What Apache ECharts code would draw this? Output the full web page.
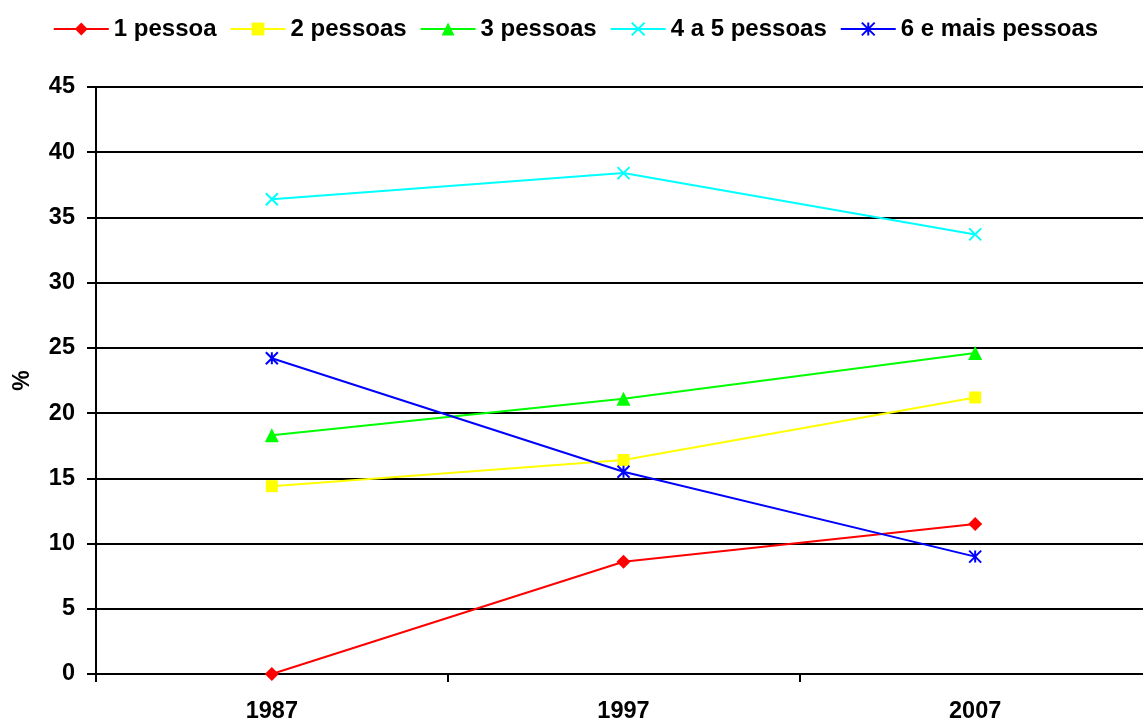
<!DOCTYPE html>
<html lang="pt">
<head>
    <meta charset="UTF-8">
    <title>Agregados por dimensão</title>
    <script src="https://cdn.jsdelivr.net/npm/echarts@6/dist/echarts.min.js"></script>
    <style>
        body { margin: 0; background: #fff; overflow: hidden; }
        /* a última faixa do eixo passa um pouco para lá da margem direita */
        #main { width: 1151px; height: 724px; }
    </style>
</head>
<body>
    <div id="main"></div>
    <script>
        // dados
        var anos = ['1987', '1997', '2007'];
        var umaPessoa = [0, 8.6, 11.5];
        var duasPessoas = [14.4, 16.4, 21.2];
        var tresPessoas = [18.3, 21.1, 24.6];
        var quatroCinco = [36.4, 38.4, 33.7];
        var seisMais = [24.2, 15.5, 9.0];
        var yTicks = [0, 5, 10, 15, 20, 25, 30, 35, 40, 45];

        var fonte = 'Liberation Sans, Arial, sans-serif';
        var crossPath = 'path://M0 0L10 10M10 0L0 10';
        var starPath = 'path://M0 0L10 10M10 0L0 10M5 0L5 10';

        function serie(nome, dados, cor, simbolo, tamanho, traco) {
            return {
                name: nome,
                type: 'line',
                data: dados,
                symbol: simbolo,
                symbolSize: tamanho,
                lineStyle: { color: cor, width: 2 },
                itemStyle: traco
                    ? { color: 'transparent', borderColor: cor, borderWidth: 2 }
                    : { color: cor, borderWidth: 0 },
                color: cor,
                animation: false
            };
        }

        var chart = echarts.init(document.getElementById('main'));
        chart.setOption({
            backgroundColor: '#fff',
            legend: {
                top: 12,
                left: 'center',
                itemWidth: 55,
                itemHeight: 16,
                itemGap: 13,
                textStyle: { fontFamily: fonte, fontWeight: 'bold', fontSize: 24, color: '#000' }
            },
            grid: { left: 96, right: 0, top: 87, bottom: 47, containLabel: false },
            xAxis: {
                type: 'category',
                data: anos,
                boundaryGap: true,
                axisLine: { lineStyle: { color: '#000', width: 2 } },
                axisTick: { show: true, length: 8, lineStyle: { color: '#000', width: 2 } },
                axisLabel: { fontFamily: fonte, fontWeight: 'bold', fontSize: 23.5, color: '#000', margin: 26 }
            },
            yAxis: {
                type: 'value',
                min: 0,
                max: 45,
                interval: 5,
                name: '%',
                nameLocation: 'middle',
                nameRotate: 90,
                nameGap: 62,
                nameTextStyle: { fontFamily: fonte, fontWeight: 'bold', fontSize: 23, color: '#000' },
                axisLine: { show: true, lineStyle: { color: '#000', width: 2 } },
                axisTick: { show: true, length: 9, lineStyle: { color: '#000', width: 2 } },
                axisLabel: {
                    fontFamily: fonte, fontWeight: 'bold', fontSize: 23.5, color: '#000', margin: 21,
                    formatter: function (v) { return yTicks.indexOf(v) >= 0 ? String(v) : ''; }
                },
                splitLine: { lineStyle: { color: '#000', width: 2 } }
            },
            series: [
                serie('1 pessoa', umaPessoa, '#ff0000', 'diamond', 14, false),
                serie('2 pessoas', duasPessoas, '#ffff00', 'rect', 12, false),
                serie('3 pessoas', tresPessoas, '#00ff00', 'triangle', 14, false),
                serie('4 a 5 pessoas', quatroCinco, '#00ffff', crossPath, 12, true),
                serie('6 e mais pessoas', seisMais, '#0000ff', starPath, 12, true)
            ]
        });
    </script>
</body>
</html>
